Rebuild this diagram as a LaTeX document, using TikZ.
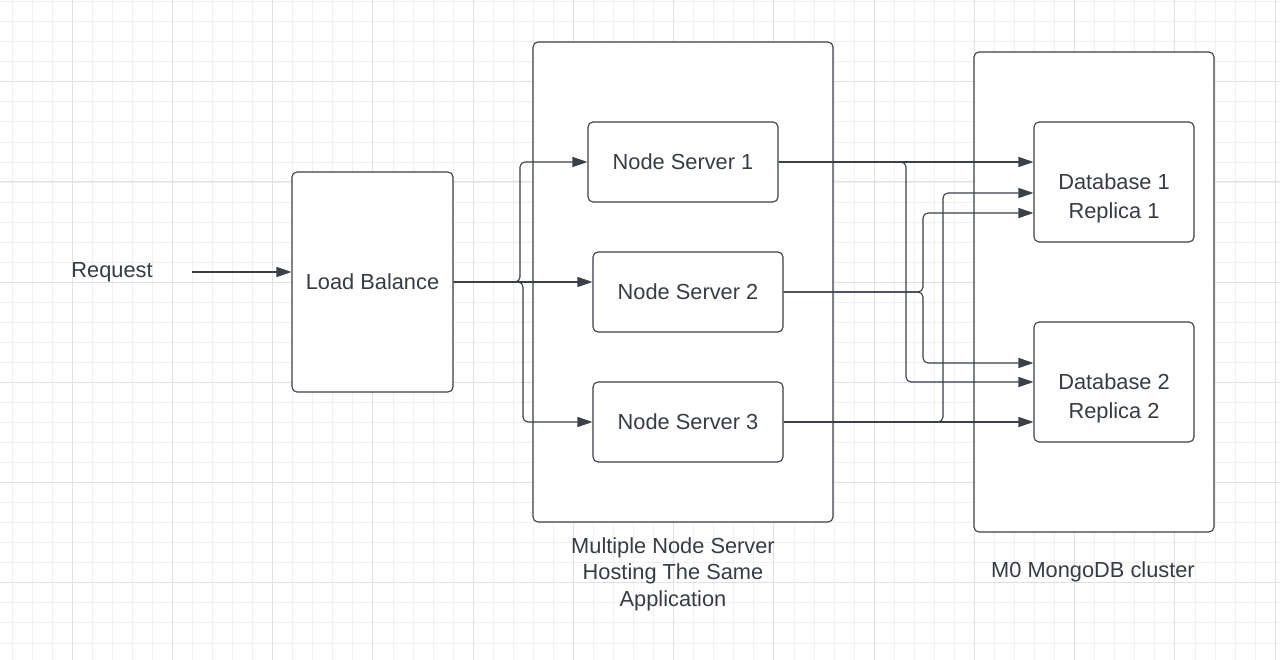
\documentclass[tikz,border=0pt]{standalone}
\usepackage{fontspec}
\setmainfont{Liberation Sans}
\usetikzlibrary{arrows.meta}
\definecolor{linec}{RGB}{58,63,72}
\definecolor{textc}{RGB}{55,60,68}
\definecolor{gridminor}{RGB}{240,240,240}
\definecolor{gridmajor}{RGB}{224,224,224}
\begin{document}
\begin{tikzpicture}[x=1pt,y=-1pt,
  minorline/.style={draw=gridminor, line width=0.9pt},
  majorline/.style={draw=gridmajor, line width=0.9pt},
  box/.style={draw=linec, fill=white, line width=1.1pt, rounded corners=5pt,
    inner sep=0pt, text=textc, font=\fontsize{21.8}{29}\selectfont, align=center},
  lbl/.style={text=textc, inner sep=0pt, align=center, font=\fontsize{21.8}{26.5}\selectfont},
  dbtext/.style={lbl, font=\fontsize{21.8}{29}\selectfont, yshift=-16pt},
  conn/.style={draw=linec, line width=1.1pt, rounded corners=5pt,
    -{Triangle[length=15pt,width=10pt]}}]
\useasboundingbox (0,0) rectangle (1280,660);
\fill[white] (0,0) rectangle (1280,660);
% grid
\foreach \i in {0,...,63} \draw[minorline] ({12+20.05*\i},0) -- ({12+20.05*\i},660);
\foreach \i in {0,...,32} \draw[minorline] (0,{1.7+20.04*\i}) -- (1280,{1.7+20.04*\i});
\foreach \i in {0,...,12} \draw[majorline] ({72+100.25*\i},0) -- ({72+100.25*\i},660);
\foreach \i in {0,...,5} \draw[majorline] (0,{81.7+100.2*\i}) -- (1280,{81.7+100.2*\i});
% containers
\node[box, minimum width=300pt, minimum height=480pt] (c1) at (683,282) {};
\node[box, minimum width=240pt, minimum height=480pt] (c2) at (1094,292) {};
% boxes
\node[box, minimum width=161pt, minimum height=220pt] (lb) at (372.5,282) {Load Balance};
\node[box, minimum width=190pt, minimum height=80pt] (ns1) at (683,162) {Node Server 1};
\node[box, minimum width=190pt, minimum height=80pt] (ns2) at (688,292) {Node Server 2};
\node[box, minimum width=190pt, minimum height=80pt] (ns3) at (688,422) {Node Server 3};
\node[box, minimum width=160pt, minimum height=120pt,
  label={[dbtext]center:Database 1\\Replica 1}] (db1) at (1114,182) {};
\node[box, minimum width=160pt, minimum height=120pt,
  label={[dbtext]center:Database 2\\Replica 2}] (db2) at (1114,382) {};
% labels
\node[lbl, minimum width=160pt] (req) at (112,272) {Request};
\node[lbl] (lab1) at (673,574) {Multiple Node Server\\Hosting The Same\\Application};
\node[lbl] (lab2) at (1093,572) {M0 MongoDB cluster};
% junction coordinates
\coordinate (j1) at (520,282);
\coordinate (j2) at (523,282);
\coordinate (k1) at (906,162);
\coordinate (k2) at (923,292);
\coordinate (k3) at (943,422);
% connectors
\draw[conn] (req.east) -- (req.east -| lb.west);
\draw[conn] (lb.east) -- (j1) |- (ns1.west);
\draw[conn] (lb.east) -- (lb.east -| ns2.west);
\draw[conn] (lb.east) -- (j2) |- (ns3.west);
\draw[conn] (ns1.east) -- (ns1.east -| db1.west);
\draw[conn] (ns1.east) -- (k1) |- (db2.west);
\draw[conn] (ns2.east) -- (k2) |- ([yshift=-31pt]db1.west);
\draw[conn] (ns2.east) -- (k2) |- ([yshift=19pt]db2.west);
\draw[conn] (ns3.east) -- (ns3.east -| db2.west);
\draw[conn] (ns3.east) -- (k3) |- ([yshift=-11pt]db1.west);
\end{tikzpicture}
\end{document}
